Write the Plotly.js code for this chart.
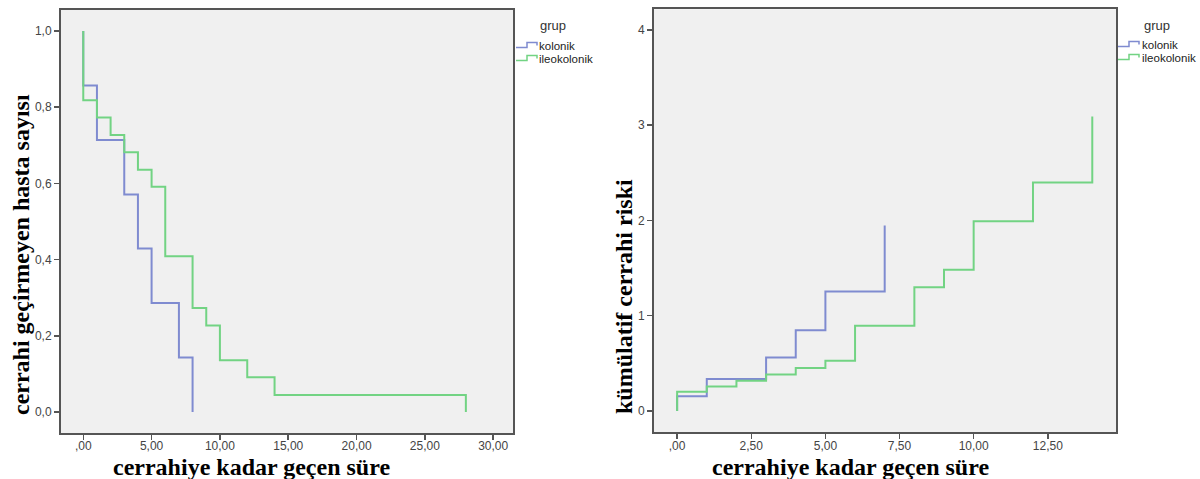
<!DOCTYPE html>
<html>
<head>
<meta charset="utf-8">
<script src="https://cdn.plot.ly/plotly-3.0.1.min.js"></script>
<style>html,body{margin:0;padding:0;background:#fff;}#chart{width:1200px;height:479px;}</style>
</head>
<body>
<div id="chart"></div>
<script>
// Survival (Kaplan-Meier) – left panel
const kolonikTimes = [0, 0, 1, 3, 4, 5, 7, 8];
const kolonikSurvival = [1.0, 0.857, 0.714, 0.571, 0.429, 0.286, 0.143, 0.0];
const ileoTimes = [0, 0, 1, 2, 3, 4, 5, 6, 8, 9, 10, 12, 14, 28];
const ileoSurvival = [1.0, 0.818, 0.773, 0.727, 0.682, 0.636, 0.591, 0.409, 0.273, 0.227, 0.136, 0.091, 0.045, 0.0];

// Cumulative hazard – right panel
const kolonikHazTimes = [0, 0, 1, 3, 4, 5, 7];
const kolonikHazard = [0, 0.154, 0.336, 0.560, 0.847, 1.253, 1.946];
const ileoHazTimes = [0, 0, 1, 2, 3, 4, 5, 6, 8, 9, 10, 12, 14];
const ileoHazard = [0, 0.201, 0.258, 0.318, 0.383, 0.452, 0.526, 0.894, 1.299, 1.482, 1.992, 2.398, 3.091];

// Tick labels
const leftXTickVals = [0, 5, 10, 15, 20, 25, 30];
const leftXTickText = [",00", "5,00", "10,00", "15,00", "20,00", "25,00", "30,00"];
const leftYTickVals = [0, 0.2, 0.4, 0.6, 0.8, 1.0];
const leftYTickText = ["0,0", "0,2", "0,4", "0,6", "0,8", "1,0"];
const rightXTickVals = [0, 2.5, 5, 7.5, 10, 12.5];
const rightXTickText = [",00", "2,50", "5,00", "7,50", "10,00", "12,50"];
const rightYTickVals = [0, 1, 2, 3, 4];
const rightYTickText = ["0", "1", "2", "3", "4"];

const groupNames = ["kolonik", "ileokolonik"];
const legendTitle = "grup";
const xTitle = "cerrahiye kadar geçen süre";
const leftYTitle = "cerrahi geçirmeyen hasta sayısı";
const rightYTitle = "kümülatif cerrahi riski";

const BLUE = "#7f8bd0";
const GREEN = "#72d383";
const AX = "#555555";
const W = 1200, H = 479;
const px = v => v / W;            // pixel -> paper x
const py = v => (H - v) / H;      // pixel -> paper y

const traces = [
  {x: kolonikTimes, y: kolonikSurvival, name: groupNames[0], type: "scatter", mode: "lines",
   line: {shape: "hv", color: BLUE, width: 2}, xaxis: "x", yaxis: "y"},
  {x: ileoTimes, y: ileoSurvival, name: groupNames[1], type: "scatter", mode: "lines",
   line: {shape: "hv", color: GREEN, width: 2}, xaxis: "x", yaxis: "y"},
  {x: kolonikHazTimes, y: kolonikHazard, name: groupNames[0], type: "scatter", mode: "lines",
   line: {shape: "hv", color: BLUE, width: 2}, xaxis: "x2", yaxis: "y2"},
  {x: ileoHazTimes, y: ileoHazard, name: groupNames[1], type: "scatter", mode: "lines",
   line: {shape: "hv", color: GREEN, width: 2}, xaxis: "x2", yaxis: "y2"}
];

const axisCommon = {
  showgrid: false, zeroline: false, showline: true, mirror: true,
  linecolor: AX, linewidth: 2, ticks: "outside", ticklen: 5, tickwidth: 1.5, tickcolor: AX,
  tickfont: {family: "Liberation Sans, Arial, sans-serif", size: 12, color: "#444"},
  tickmode: "array", fixedrange: true
};

const titleFont = {family: "Liberation Serif, Times New Roman, serif", size: 24, color: "#000"};
const legFont = {family: "Liberation Sans, Arial, sans-serif", size: 11.5, color: "#222"};
const legTitleFont = {family: "Liberation Sans, Arial, sans-serif", size: 13, color: "#333"};

// custom legends (SPSS-style step icons)
const legends = [
  {titleX: 553, titleY: 25, iconX: 516, textX: 537, rows: [46, 59]},
  {titleX: 1157, titleY: 25, iconX: 1118, textX: 1140, rows: [45, 58]}
];
const legendColors = [BLUE, GREEN];

const annotations = [
  {text: "<b>" + xTitle + "</b>", xref: "paper", yref: "paper", x: px(251), y: py(466.5),
   xanchor: "center", yanchor: "middle", showarrow: false, font: titleFont, borderpad: 0},
  {text: "<b>" + xTitle + "</b>", xref: "paper", yref: "paper", x: px(851), y: py(466.5),
   xanchor: "center", yanchor: "middle", showarrow: false, font: titleFont, borderpad: 0},
  {text: "<b>" + leftYTitle + "</b>", xref: "paper", yref: "paper", x: px(21), y: py(255),
   xanchor: "center", yanchor: "middle", textangle: -90, showarrow: false, font: titleFont},
  {text: "<b>" + rightYTitle + "</b>", xref: "paper", yref: "paper", x: px(624), y: py(297),
   xanchor: "center", yanchor: "middle", textangle: -90, showarrow: false, font: titleFont}
];
const shapes = [];
legends.forEach(L => {
  annotations.push({text: legendTitle, xref: "paper", yref: "paper", x: px(L.titleX), y: py(L.titleY),
    xanchor: "center", yanchor: "middle", showarrow: false, font: legTitleFont});
  L.rows.forEach((r, i) => {
    annotations.push({text: groupNames[i], xref: "paper", yref: "paper", x: px(L.textX), y: py(r),
      xanchor: "left", yanchor: "middle", showarrow: false, font: legFont});
    const x0 = L.iconX, y0 = r + 1.5;
    const path = "M" + px(x0) + "," + py(y0) + " L" + px(x0 + 11) + "," + py(y0) +
      " L" + px(x0 + 11) + "," + py(y0 - 5) + " L" + px(x0 + 21) + "," + py(y0 - 5) +
      " L" + px(x0 + 21) + "," + py(y0 - 2);
    shapes.push({type: "path", xref: "paper", yref: "paper", path: path,
      line: {color: legendColors[i], width: 1.5}});
  });
});

const layout = {
  width: W, height: H,
  margin: {l: 0, r: 0, t: 0, b: 0, autoexpand: false},
  paper_bgcolor: "#ffffff",
  plot_bgcolor: "#f0f0f0",
  showlegend: false,
  xaxis: Object.assign({}, axisCommon, {domain: [px(61), px(513)], range: [-1.63, 31.45],
    tickvals: leftXTickVals, ticktext: leftXTickText, anchor: "y", automargin: false, ticklabelstandoff: -4}),
  yaxis: Object.assign({}, axisCommon, {domain: [py(433), py(10)], range: [-0.055, 1.055],
    tickvals: leftYTickVals, ticktext: leftYTickText, anchor: "x", automargin: false}),
  xaxis2: Object.assign({}, axisCommon, {domain: [px(654), px(1116)], range: [-0.78, 14.80],
    tickvals: rightXTickVals, ticktext: rightXTickText, anchor: "y2", automargin: false, ticklabelstandoff: -4}),
  yaxis2: Object.assign({}, axisCommon, {domain: [py(432.3), py(9.3)], range: [-0.224, 4.217],
    tickvals: rightYTickVals, ticktext: rightYTickText, anchor: "x2", automargin: false}),
  annotations: annotations,
  shapes: shapes
};

Plotly.newPlot("chart", traces, layout, {displayModeBar: false, staticPlot: true});
</script>
</body>
</html>
